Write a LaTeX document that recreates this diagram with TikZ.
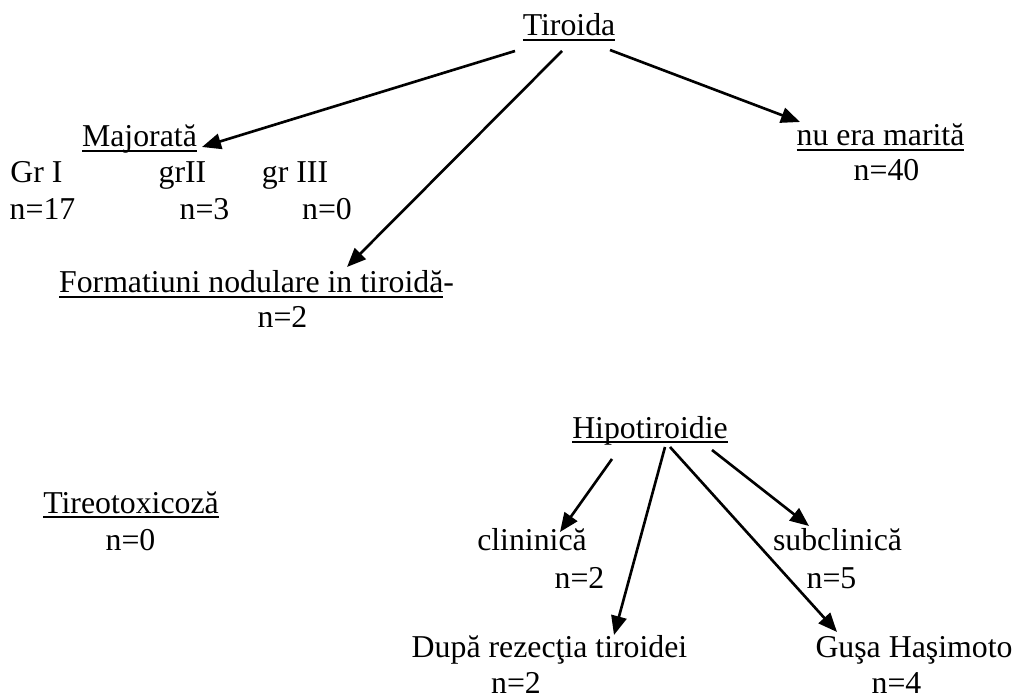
\documentclass[tikz,border=0pt]{standalone}
\usepackage{fontspec}
\setmainfont{Liberation Serif}
\usepackage{tikz}
\usetikzlibrary{arrows.meta}

% subliniere cu grosime fixa
\newcommand{\sublin}[1]{\setbox0\hbox{#1}\rlap{\rule[-0.1cm]{\wd0}{0.045cm}}\box0}

\begin{document}
\begin{tikzpicture}[every node/.style={inner sep=0pt, outer sep=0pt, anchor=base, font=\fontsize{18.1}{21.7}\selectfont},
  sageata/.style={line width=1.5pt, -{Triangle[length=0.38cm,width=0.31cm]}}]
  \useasboundingbox (0,0) rectangle (20.32,-13.98);

  % Nodos
  \node (tiroida) at (11.38,-0.72) {\sublin{Tiroida}};          % Nodo superior
  \node (majorata) at (2.79,-2.94) {\sublin{Majorată}};         % Izquierda
  \node (gr1) at (0.73,-3.66) {Gr I};
  \node (gr2) at (3.65,-3.66) {grII};
  \node (gr3) at (5.90,-3.66) {gr III};
  \node (n17) at (0.85,-4.40) {n=17};
  \node (n3) at (4.09,-4.40) {n=3};
  \node (n0a) at (6.54,-4.40) {n=0};
  \node (formatiuni) at (5.13,-5.86) {\sublin{Formatiuni nodulare in tiroidă}-};
  \node (n2a) at (5.65,-6.56) {n=2};
  \node (nuera) at (17.61,-2.92) {\sublin{nu era marită}};      % Derecha
  \node (n40) at (17.73,-3.62) {n=40};

  \node (tireo) at (2.62,-10.26) {\sublin{Tireotoxicoză}};
  \node (n0b) at (2.61,-11.00) {n=0};

  \node (hipo) at (13.00,-8.76) {\sublin{Hipotiroidie}};        % Nodo inferior
  \node (clin) at (10.64,-11.00) {clininică};
  \node (n2b) at (11.59,-11.76) {n=2};
  \node (subcl) at (16.75,-11.00) {subclinică};
  \node (n5) at (16.63,-11.76) {n=5};
  \node (dupa) at (10.99,-13.14) {După rezecţia tiroidei};
  \node (n2c) at (10.32,-13.86) {n=2};
  \node (gusa) at (18.28,-13.14) {Guşa Haşimoto};
  \node (n4) at (17.93,-13.86) {n=4};

  % Aristas
  \draw[sageata] ([shift={(-1.08,-0.30)}]tiroida.base) -- ([shift={(1.25,0)}]majorata.base);
  \draw[sageata] ([shift={(-0.14,-0.30)}]tiroida.base) -- ([shift={(1.81,0.52)}]formatiuni.base);
  \draw[sageata] ([shift={(0.82,-0.28)}]tiroida.base) -- ([shift={(-1.61,0.48)}]nuera.base);

  \draw[sageata] ([shift={(-0.76,-0.42)}]hipo.base) -- ([shift={(0.56,0.36)}]clin.base);
  \draw[sageata] ([shift={(0.30,-0.18)}]hipo.base) -- ([shift={(1.29,0.44)}]dupa.base);
  \draw[sageata] ([shift={(0.40,-0.18)}]hipo.base) -- ([shift={(-1.54,0.50)}]gusa.base);
  \draw[sageata] ([shift={(1.24,-0.24)}]hipo.base) -- ([shift={(-0.57,0.48)}]subcl.base);
\end{tikzpicture}
\end{document}
